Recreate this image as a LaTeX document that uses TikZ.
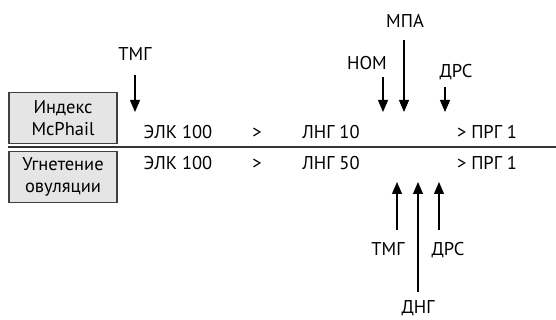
\documentclass[tikz,border=0pt]{standalone}
\usepackage{fontspec}
\setmainfont{PT Sans}
\usetikzlibrary{arrows.meta}
\begin{document}
\begin{tikzpicture}[x=1pt,y=-1pt,
  lbl/.style={font=\fontsize{18.5}{21}\selectfont, inner sep=0pt, anchor=base},
  box/.style={draw=black!75, fill=black!10, line width=1.1pt, minimum width=108pt, minimum height=51pt, inner sep=0pt, align=center, font=\fontsize{18.5}{22}\selectfont},
  arr/.style={line width=1.1pt, -{Triangle[length=12pt,width=10pt]}}]
\useasboundingbox (0,0) rectangle (556,320);
\node[box] (b1) at (63,118) {Индекс\\McPhail};
\node[box] (b2) at (63,177) {Угнетение\\овуляции};
\coordinate (l0) at (8,147);
\coordinate (l1) at (556,147);
\draw[line width=1.2pt, black!80] (l0) -- (l1);
% top row
\node[lbl] (e1) at (178,139) {ЭЛК 100};
\node[lbl] (g1) at (257,139) {>};
\node[lbl] (n1) at (331,139) {ЛНГ 10};
\node[lbl] (p1) at (487,139) {> ПРГ 1};
% bottom row
\node[lbl] (e2) at (178,170) {ЭЛК 100};
\node[lbl] (g2) at (257,170) {>};
\node[lbl] (n2) at (331,170) {ЛНГ 50};
\node[lbl] (p2) at (487,170) {> ПРГ 1};
% top labels
\node[lbl] (tmg1) at (135,61) {ТМГ};
\node[lbl] (mpa) at (405,28) {МПА};
\node[lbl] (nom) at (367,70) {НОМ};
\node[lbl] (drs1) at (456,78) {ДРС};
\coordinate (tmg1a) at (135,75);
\coordinate (tmg1b) at (135,112);
\coordinate (mpaa) at (404,40);
\coordinate (mpab) at (404,112);
\coordinate (noma) at (383,77);
\coordinate (nomb) at (383,112);
\coordinate (drs1a) at (445,87);
\coordinate (drs1b) at (445,112);
\draw[arr] (tmg1a) -- (tmg1b);
\draw[arr] (mpaa) -- (mpab);
\draw[arr] (noma) -- (nomb);
\draw[arr] (drs1a) -- (drs1b);
% bottom labels
\node[lbl] (tmg2) at (388,255) {ТМГ};
\node[lbl] (drs2) at (448,255) {ДРС};
\node[lbl] (dng) at (418,313) {ДНГ};
\coordinate (tmg2a) at (397,230);
\coordinate (tmg2b) at (397,182);
\coordinate (dnga) at (418,292);
\coordinate (dngb) at (418,182);
\coordinate (drs2a) at (439,230);
\coordinate (drs2b) at (439,182);
\draw[arr] (tmg2a) -- (tmg2b);
\draw[arr] (dnga) -- (dngb);
\draw[arr] (drs2a) -- (drs2b);
\end{tikzpicture}
\end{document}
